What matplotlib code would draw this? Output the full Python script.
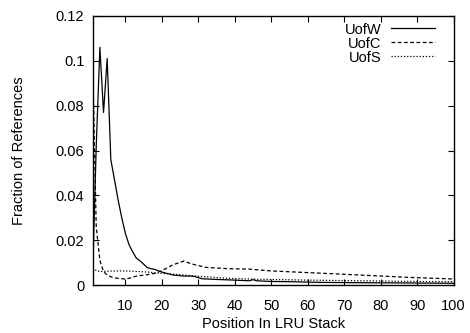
import matplotlib
matplotlib.use("Agg")
import matplotlib.pyplot as plt

plt.rcParams['font.family'] = ['Liberation Sans', 'DejaVu Sans']

# UofW (solid)
uofw_x = [1, 2, 3, 4, 5, 6, 7, 8, 9, 10, 11, 12, 13, 14, 16, 17, 18, 20, 23, 26, 28, 29, 31, 35, 40, 44, 45, 46, 50, 55, 63, 70, 80, 90, 100]
uofw_y = [0.004, 0.062, 0.106, 0.077, 0.101, 0.056, 0.047, 0.038, 0.030, 0.023, 0.018, 0.0148, 0.012, 0.0108, 0.0078, 0.0073, 0.0070, 0.0058, 0.0045, 0.0040, 0.0040, 0.0038, 0.0028, 0.0025, 0.0022, 0.0019, 0.0024, 0.0019, 0.0016, 0.0015, 0.0012, 0.0011, 0.0010, 0.0009, 0.0008]

# UofC (dashed)
uofc_x = [1, 2, 3, 4, 5, 6, 7, 8, 10, 11, 13, 16, 18, 20, 23, 26, 28, 32, 38, 44, 50, 62, 74, 88, 100]
uofc_y = [0.1, 0.026, 0.011, 0.006, 0.0045, 0.0037, 0.0032, 0.0030, 0.0027, 0.0030, 0.0040, 0.0046, 0.0052, 0.0064, 0.0090, 0.0107, 0.0095, 0.0079, 0.0073, 0.0071, 0.0063, 0.0054, 0.0045, 0.0034, 0.0027]

# UofS (dotted)
uofs_x = [1, 2, 3, 5, 8, 12, 16, 20, 26, 31, 38, 46, 60, 70, 80, 90, 100]
uofs_y = [0.0075, 0.0065, 0.0060, 0.0062, 0.0063, 0.0062, 0.0058, 0.0052, 0.0045, 0.0038, 0.0030, 0.0026, 0.0022, 0.0020, 0.0018, 0.0016, 0.0015]

x_ticks = [10, 20, 30, 40, 50, 60, 70, 80, 90, 100]
y_ticks = [0, 0.02, 0.04, 0.06, 0.08, 0.1, 0.12]
y_tick_labels = ["0", "0.02", "0.04", "0.06", "0.08", "0.1", "0.12"]

fig = plt.figure(figsize=(4.70, 3.33), dpi=100)
ax = fig.add_axes([0.197, 0.144, 0.768, 0.808])

lw = 0.9
ax.plot(uofw_x, uofw_y, color='black', lw=lw, linestyle='-', label='UofW')
ax.plot(uofc_x, uofc_y, color='black', lw=lw, linestyle=(0, (3, 2)), label='UofC')
ax.plot(uofs_x, uofs_y, color='black', lw=lw, linestyle=(0, (1, 1.5)), label='UofS')

ax.set_xlim(1, 100)
ax.set_ylim(0, 0.12)
ax.set_xticks(x_ticks)
ax.set_yticks(y_ticks)
ax.set_yticklabels(y_tick_labels)
ax.tick_params(direction='in', length=4, width=0.8, top=True, right=True,
               labelsize=10.5)
ax.tick_params(axis='x', pad=10)
ax.tick_params(axis='y', pad=6)
for s in ax.spines.values():
    s.set_linewidth(1.0)

ax.set_xlabel('Position In LRU Stack', fontsize=10.5, labelpad=3)
ax.set_ylabel('Fraction of References', fontsize=10.5, labelpad=21)

ax.legend(loc='upper right', bbox_to_anchor=(0.967, 1.0), frameon=False,
          markerfirst=False, fontsize=10.5,
          handlelength=3.0, handletextpad=0.7, labelspacing=0.0,
          borderaxespad=0.25, borderpad=0.2)

fig.savefig('out.png', dpi=100)
